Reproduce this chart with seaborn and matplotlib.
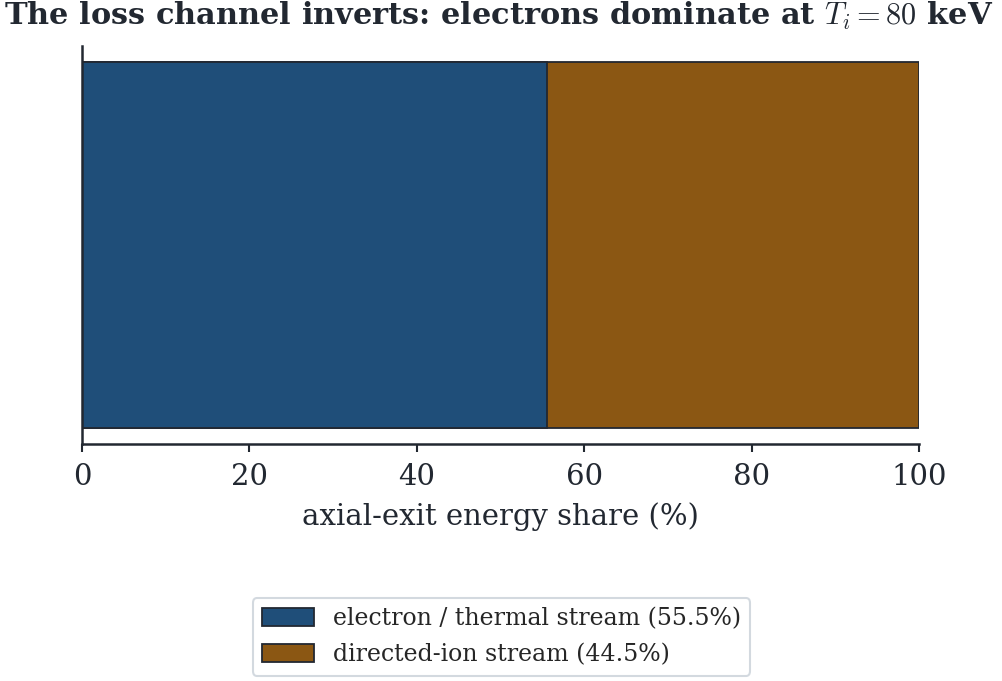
import pandas as pd
import matplotlib
matplotlib.use("Agg")
import matplotlib.pyplot as plt
import seaborn as sns
from matplotlib.patches import Patch

# ===============================
# DATA
# ===============================
streams = ["electron / thermal stream", "directed-ion stream"]
shares = [55.5, 44.5]
colors = ["#1f4e79", "#8b5713"]
xticks = [0, 20, 40, 60, 80, 100]

# ===============================
# STYLE
# ===============================
sns.set_theme(style="ticks")
plt.rcParams["font.family"] = ["DejaVu Serif"]
plt.rcParams["mathtext.fontset"] = "cm"
dark = "#222831"

fig = plt.figure(figsize=(10.03, 6.81), dpi=100)
ax = fig.add_axes([0.0818, 0.348, 0.8345, 0.5845])

# stacked bar: draw cumulative totals back to front
cum = pd.Series(shares).cumsum()
df = pd.DataFrame({"row": ["loss"] * len(streams), "stream": streams, "cum": cum})
for i in reversed(range(len(streams))):
    sns.barplot(data=df.iloc[[i]], x="cum", y="row", color=colors[i], saturation=1,
                edgecolor=dark, linewidth=1.3, width=0.8, ax=ax, orient="h")

ax.set_ylim(0.436, -0.436)
ax.set_xlim(0, 100)
ax.set_xticks(xticks)
ax.set_yticks([])
ax.set_ylabel("")
ax.set_xlabel("axial-exit energy share (%)", fontsize=21, color=dark, labelpad=8)
ax.tick_params(axis="x", labelsize=21, colors=dark, length=6, width=1.5, pad=8)
for s in ["top", "right"]:
    ax.spines[s].set_visible(False)
for s in ["left", "bottom"]:
    ax.spines[s].set_color(dark)
    ax.spines[s].set_linewidth(1.8)

fig.suptitle(r"The loss channel inverts: electrons dominate at $T_i = 80$ keV",
             fontsize=21.9, fontweight="bold", color=dark, x=0.4975, y=1.0)

handles = [Patch(facecolor=c, edgecolor=dark, linewidth=1.3,
                 label=f"{n} ({v:.1f}%)") for n, c, v in zip(streams, colors, shares)]
leg = fig.legend(handles=handles, loc="lower center", bbox_to_anchor=(0.5, -0.01),
                 fontsize=17, frameon=True, edgecolor="#c8d0d8", fancybox=True,
                 handlelength=2.2, handleheight=0.8, borderpad=0.4, labelspacing=0.55)
leg.get_frame().set_linewidth(1.5)

fig.savefig("out.png", dpi=100)
